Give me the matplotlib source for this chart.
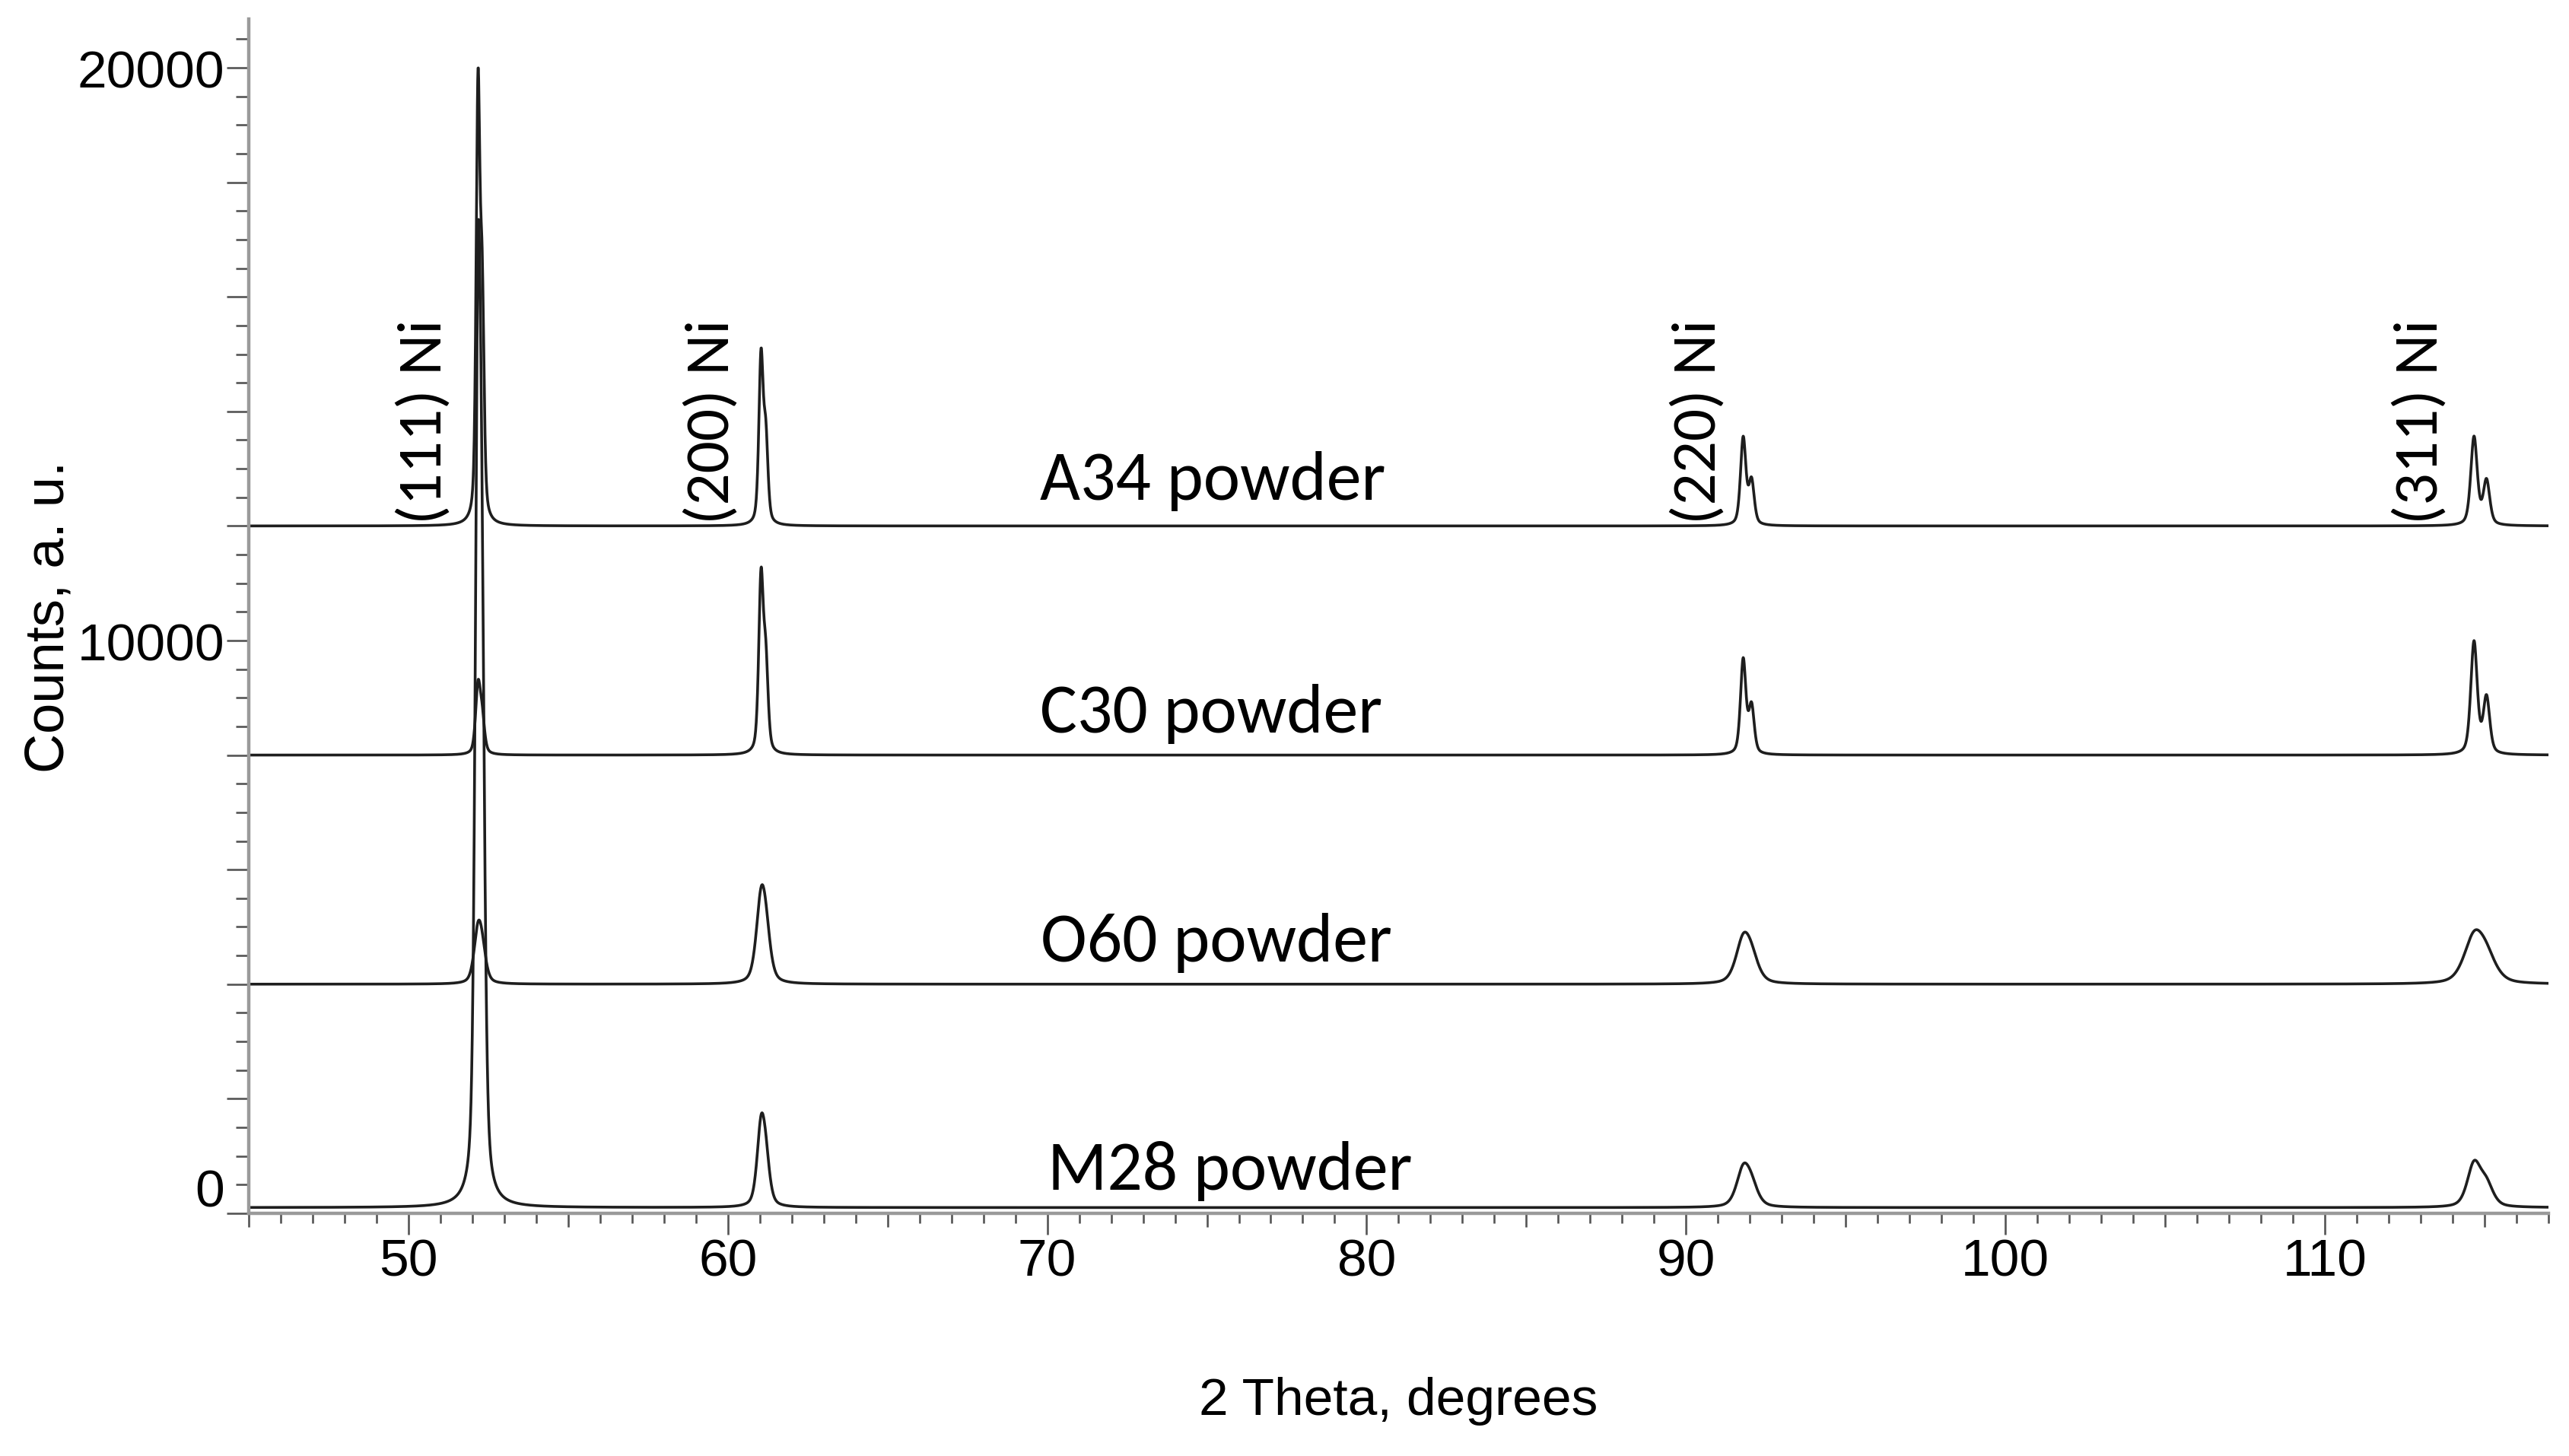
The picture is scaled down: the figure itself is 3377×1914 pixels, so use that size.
import numpy as np
import matplotlib
matplotlib.use("Agg")
import matplotlib.pyplot as plt
from matplotlib.ticker import MultipleLocator, FuncFormatter

# samples, top to bottom
samples = ["A34 powder", "C30 powder", "O60 powder", "M28 powder"]
offsets = [12000, 8000, 4000, 100]

# Ni reflections (Co K-alpha), K-alpha1 and K-alpha2 positions
reflections = ["(111) Ni", "(200) Ni", "(220) Ni", "(311) Ni"]
ka1_pos = [52.18, 61.04, 91.79, 114.67]
ka2_pos = [52.31, 61.19, 92.05, 115.06]

# K-alpha1 peak heights above each baseline
a34_height = [7430, 2890, 1520, 1540]
c30_height = [1150, 3010, 1650, 1960]
o60_height = [845, 1300, 700, 750]
m28_height = [14300, 1290, 615, 735]

# peak widths (FWHM, degrees)
a34_fwhm = [0.14, 0.16, 0.20, 0.24]
c30_fwhm = [0.18, 0.17, 0.20, 0.24]
o60_fwhm = [0.30, 0.36, 0.55, 0.75]
m28_fwhm = [0.21, 0.30, 0.50, 0.50]

heights = [a34_height, c30_height, o60_height, m28_height]
fwhms = [a34_fwhm, c30_fwhm, o60_fwhm, m28_fwhm]

# text placement
refl_label_x = [50.5, 59.5, 90.4, 113.0]
refl_label_y = 12050
sample_label_x = [69.76, 69.76, 69.8, 70.0]
sample_label_y = [12470, 8406, 4409, 425]

ka2_ratio = 0.5
eta = 0.45


def pseudo_voigt(x, x0, h, w):
    g = np.exp(-4 * np.log(2) * ((x - x0) / w) ** 2)
    l = 1 / (1 + (2 * (x - x0) / w) ** 2)
    return h * (eta * l + (1 - eta) * g)


two_theta = np.linspace(45, 117, 7201)

fig = plt.figure(figsize=(33.77, 19.15), dpi=100)
ax = fig.add_axes([0.0968, 0.1666, 0.8952, 0.8198])

for name, off, hs, ws in zip(samples, offsets, heights, fwhms):
    y = np.full_like(two_theta, float(off))
    for p1, p2, h, w in zip(ka1_pos, ka2_pos, hs, ws):
        y += pseudo_voigt(two_theta, p1, h, w)
        y += pseudo_voigt(two_theta, p2, h * ka2_ratio, w)
    ax.plot(two_theta, y, color="#1e1e1e", lw=2.6)

calibri_like = ["Carlito", "Lato", "DejaVu Sans"]
for lab, lx in zip(reflections, refl_label_x):
    ax.text(lx, refl_label_y, lab, rotation=90, ha="center", va="bottom",
            fontsize=60, family=calibri_like)
for lab, lx, ly in zip(samples, sample_label_x, sample_label_y):
    ax.text(lx, ly, lab, ha="left", va="baseline", fontsize=66, family=calibri_like)

ax.set_xlim(45, 117)
ax.set_ylim(0, 20850)

for s in ["top", "right"]:
    ax.spines[s].set_visible(False)
for s in ["left", "bottom"]:
    ax.spines[s].set_color("#9a9a9a")
    ax.spines[s].set_linewidth(3.2)

ax.xaxis.set_major_locator(MultipleLocator(5))
ax.xaxis.set_minor_locator(MultipleLocator(1))
ax.xaxis.set_major_formatter(FuncFormatter(lambda v, p: "%d" % v if v % 10 == 0 else ""))
ax.yaxis.set_major_locator(MultipleLocator(2000))
ax.yaxis.set_minor_locator(MultipleLocator(500))
# "0" is drawn separately, a little above its tick as in the original
ax.yaxis.set_major_formatter(FuncFormatter(lambda v, p: "%d" % v if v in (10000, 20000) else ""))

ax.tick_params(axis="both", which="both", direction="out", color="#555555", width=1.9)
ax.tick_params(axis="x", which="major", length=20, pad=3)
ax.tick_params(axis="x", which="minor", length=9.5)
ax.tick_params(axis="y", which="major", length=21, pad=2)
ax.tick_params(axis="y", which="minor", length=12)
for lbl in ax.get_xticklabels() + ax.get_yticklabels():
    lbl.set_family("Liberation Sans")
    lbl.set_fontsize(50)

# 5-degree ticks are medium length
for tick in ax.xaxis.get_major_ticks():
    if round(tick.get_loc()) % 10 != 0:
        tick.tick1line.set_markersize(13)

ax.annotate("0", xy=(0, 0), xycoords=("axes fraction", "data"),
            xytext=(-23, 20), textcoords="offset points",
            ha="right", va="center", fontsize=50, family="Liberation Sans")

ax.set_xlabel("2 Theta, degrees", fontsize=50, family="Liberation Sans", va="center")
ax.xaxis.set_label_coords(0.5, -0.1567)
ax.set_ylabel("Counts, a. u.", fontsize=52, family="Liberation Sans", va="center")
ax.yaxis.set_label_coords(-0.0867, 0.5)

fig.savefig("out.png", dpi=100, facecolor="white")
